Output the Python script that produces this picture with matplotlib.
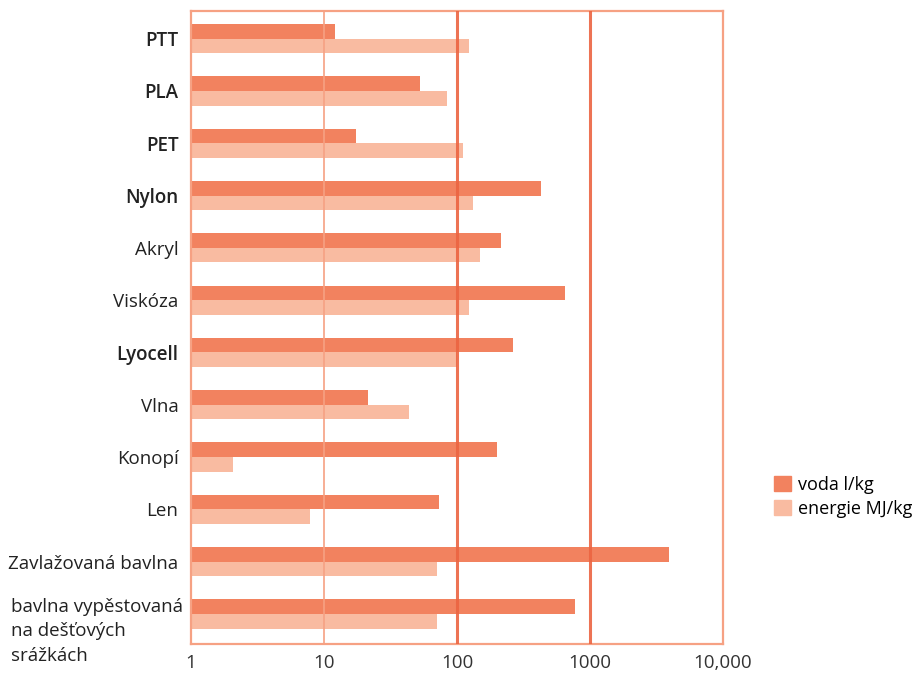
import numpy as np
import matplotlib.pyplot as plt
import matplotlib.transforms as mtransforms
from matplotlib.patches import Patch

plt.rcParams['font.family'] = ['Open Sans', 'DejaVu Sans']

materials = ["PTT", "PLA", "PET", "Nylon", "Akryl", "Viskóza", "Lyocell",
             "Vlna", "Konopí", "Len", "Zavlažovaná bavlna",
             "bavlna vypěstovaná\nna dešťových\nsrážkách"]
bold_labels = ["PTT", "PLA", "PET", "Nylon", "Lyocell"]
voda = [12, 53, 17.5, 430, 215, 650, 265, 21.5, 200, 73, 3900, 770]
energie = [123, 84, 111, 132, 148, 123, 100, 43.5, 2.07, 7.9, 71, 71]
x_ticks = [1, 10, 100, 1000, 10000]
x_ticklabels = ["1", "10", "100", "1000", "10,000"]

c_voda = "#F2825F"
c_energie = "#F9BBA1"
c_line = "#EC6441"
c_frame = "#F6A183"

fig = plt.figure(figsize=(9.2, 6.75), dpi=100)
ax = fig.add_axes([0.2076, 0.046, 0.5783, 0.938])

y = np.arange(len(materials))
h = 0.28
ax.barh(y - h / 2, voda, height=h, left=0, color=c_voda, zorder=2)
ax.barh(y + h / 2, energie, height=h, left=0, color=c_energie, zorder=2)

ax.set_xscale("log")
ax.set_xlim(1, 10000)
ax.set_ylim(11.57, -0.53)

ax.axvline(10, color=c_frame, lw=1.2, zorder=3)
ax.axvline(100, color=c_line, lw=2.2, alpha=0.9, zorder=3)
ax.axvline(1000, color=c_line, lw=2.2, alpha=0.9, zorder=3)

for s in ax.spines.values():
    s.set_color(c_frame)
    s.set_linewidth(1.6)

ax.set_xticks(x_ticks)
ax.set_xticklabels(x_ticklabels, fontsize=13.5, color="#333333")
ax.xaxis.set_minor_locator(plt.NullLocator())
ax.tick_params(axis="x", length=0, pad=7)

ax.set_yticks(y)
ax.set_yticklabels(materials, fontsize=13.5, color="#222222")
ax.tick_params(axis="y", length=0, pad=9)
labels = ax.get_yticklabels()
for lbl in labels:
    if lbl.get_text() in bold_labels:
        lbl.set_fontweight("semibold")
last = labels[-1]
last.set_ha("left")
last.set_va("top")
last.set_linespacing(1.45)
last.set_transform(last.get_transform() + mtransforms.ScaledTranslation(-1.675, 0.16, fig.dpi_scale_trans))

handles = [Patch(color=c_voda, label="voda l/kg"),
           Patch(color=c_energie, label="energie MJ/kg")]
fig.legend(handles=handles, loc="center left", bbox_to_anchor=(0.824, 0.264),
           frameon=False, fontsize=13, handlelength=0.9, handleheight=0.9,
           handletextpad=0.4, labelspacing=0.3)

fig.savefig("out.png", dpi=100)
